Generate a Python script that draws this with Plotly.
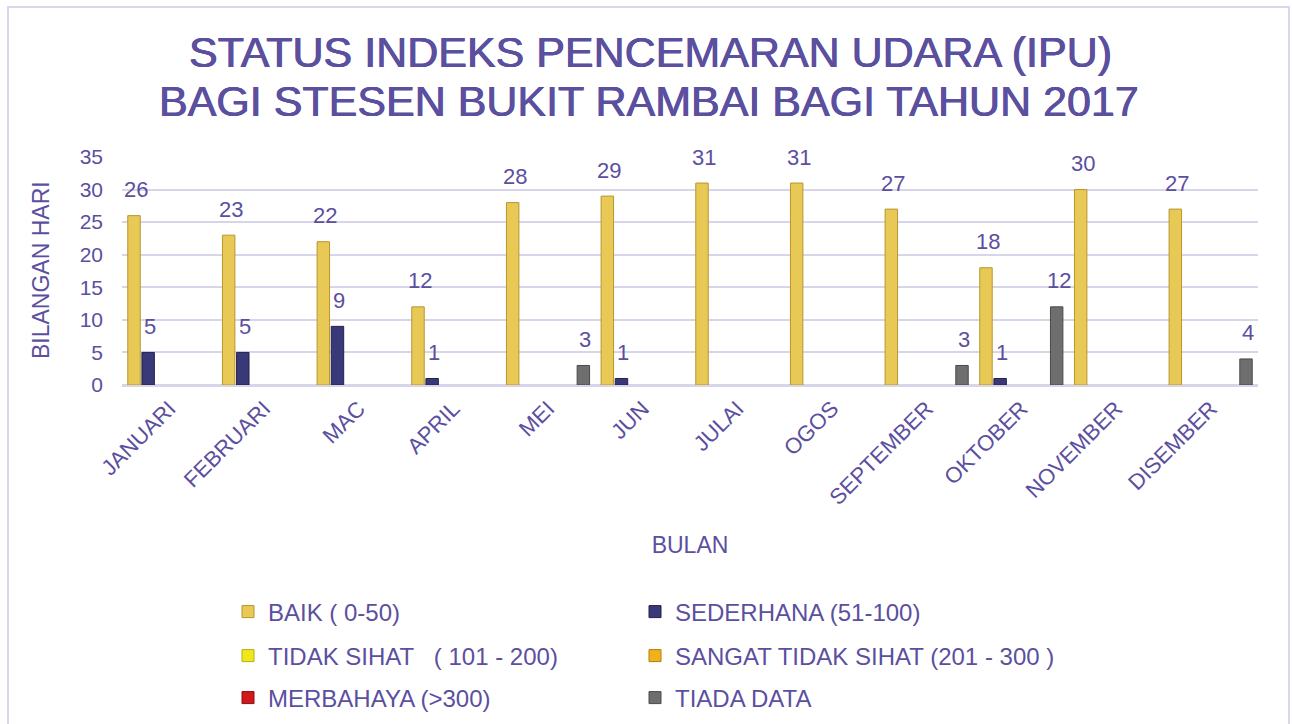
import plotly.graph_objects as go

months = ["JANUARI", "FEBRUARI", "MAC", "APRIL", "MEI", "JUN", "JULAI", "OGOS",
          "SEPTEMBER", "OKTOBER", "NOVEMBER", "DISEMBER"]

baik = [26, 23, 22, 12, 28, 29, 31, 31, 27, 18, 30, 27]
sederhana = [5, 5, 9, 1, 0, 1, 0, 0, 0, 1, 0, 0]
tidak_sihat = [0] * 12
sangat_tidak_sihat = [0] * 12
merbahaya = [0] * 12
tiada_data = [0, 0, 0, 0, 3, 0, 0, 0, 3, 12, 0, 4]

series_names = ["BAIK ( 0-50)", "SEDERHANA (51-100)", "TIDAK SIHAT   ( 101 - 200)",
                "SANGAT TIDAK SIHAT (201 - 300 )", "MERBAHAYA (>300)", "TIADA DATA"]
series_values = [baik, sederhana, tidak_sihat, sangat_tidak_sihat, merbahaya, tiada_data]
series_colors = ["#E9C955", "#393979", "#F0E81C", "#F2B01B", "#D0191B", "#6E6E6E"]
series_lines = ["#B8962E", "#22224A", "#B8B010", "#B07E10", "#8E0E0E", "#4A4A4A"]

PURPLE = "#5B4F9F"
FONT = "Liberation Sans, Arial, sans-serif"

W, H = 1292, 724
L, R, T, B = 122, 34, 157, 339
pw, ph = W - L - R, H - T - B
BARGAP, BARGROUPGAP = 0.104, 0.12
n_series = len(series_names)
slot_px = pw / len(months) * (1 - BARGAP) / n_series

# legend grid (2 columns x 3 rows), pixel positions of each entry
legend_cols_px = [228, 635]
legend_rows_px = [612, 656, 698]


def px_to_paper_y(py):
    return (H - B - py) / ph


def px_to_paper_x(px):
    return (px - L) / pw


fig = go.Figure()
annotations = []
legend_layouts = {}
for i, (name, vals, col, lc) in enumerate(zip(series_names, series_values, series_colors,
                                               series_lines)):
    lg = "legend" if i == 0 else f"legend{i + 1}"
    fig.add_trace(go.Bar(
        x=months, y=[v if v else None for v in vals], name=name,
        marker=dict(color=col, line=dict(color=lc, width=1)),
        legend=lg,
    ))
    legend_layouts[lg] = dict(
        xref="container", yref="container",
        x=legend_cols_px[i % 2] / W, y=1 - legend_rows_px[i // 2] / H,
        xanchor="left", yanchor="middle",
        font=dict(color=PURPLE, size=24, family=FONT),
        bgcolor="rgba(0,0,0,0)", itemclick=False, itemdoubleclick=False,
    )
    for m, v in zip(months, vals):
        if v:
            annotations.append(dict(
                x=m, y=v, xref="x", yref="y", text=str(v), showarrow=False,
                xanchor="center", yanchor="middle",
                xshift=(i - (n_series - 1) / 2) * slot_px + 2, yshift=26,
                font=dict(size=22, color=PURPLE, family=FONT),
            ))

title_font = dict(size=43, color=PURPLE, family=FONT,
                  shadow=f"0.45px 0px 0px {PURPLE}, -0.45px 0px 0px {PURPLE}")

annotations += [
    dict(text="STATUS INDEKS PENCEMARAN UDARA (IPU)", xref="paper", yref="paper",
         x=px_to_paper_x(650), y=px_to_paper_y(52), xanchor="center", yanchor="middle",
         showarrow=False, font=title_font),
    dict(text="BAGI STESEN BUKIT RAMBAI BAGI TAHUN 2017", xref="paper", yref="paper",
         x=px_to_paper_x(649), y=px_to_paper_y(101), xanchor="center", yanchor="middle",
         showarrow=False, font=title_font),
    dict(text="BILANGAN HARI", xref="paper", yref="paper",
         x=px_to_paper_x(41), y=px_to_paper_y(270), xanchor="center", yanchor="middle",
         textangle=-90, showarrow=False,
         font=dict(size=23, color=PURPLE, family=FONT)),
]

fig.update_layout(
    width=W, height=H,
    margin=dict(l=L, r=R, t=T, b=B, autoexpand=False),
    paper_bgcolor="white", plot_bgcolor="white",
    barmode="group", bargap=BARGAP, bargroupgap=BARGROUPGAP,
    font=dict(family=FONT, color=PURPLE),
    showlegend=True,
    xaxis=dict(
        tickangle=-45, tickfont=dict(size=22, color=PURPLE, family=FONT),
        showline=True, linecolor="#D8D5EA", linewidth=2, ticks="",
        title=dict(text="BULAN", font=dict(size=23, color=PURPLE, family=FONT), standoff=28),
    ),
    yaxis=dict(
        range=[0, 35], dtick=5,
        tickfont=dict(size=21, color=PURPLE, family=FONT),
        showgrid=True, gridcolor="#D8D5EA", gridwidth=2,
        zeroline=True, zerolinecolor="#D8D5EA", zerolinewidth=2,
        ticks="", ticklabelstandoff=18,
    ),
    annotations=annotations,
    shapes=[
        dict(type="rect", xref="paper", yref="paper",
             x0=px_to_paper_x(8), x1=px_to_paper_x(1289),
             y0=px_to_paper_y(730), y1=px_to_paper_y(7),
             line=dict(color="#DAD7EC", width=2), fillcolor="rgba(0,0,0,0)", layer="below"),
    ],
    **legend_layouts,
)

fig.write_html("out.html", config={"displayModeBar": False},
               post_script="document.body.style.margin='0';")
